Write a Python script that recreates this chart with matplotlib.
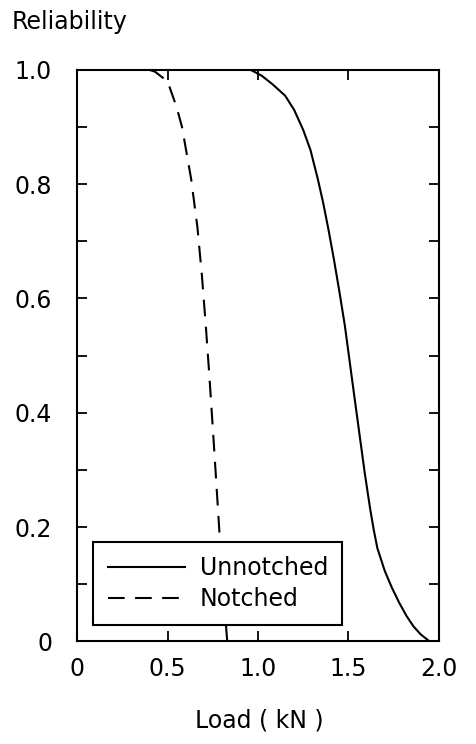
import matplotlib
matplotlib.use("Agg")
import matplotlib.pyplot as plt
from matplotlib.ticker import MultipleLocator

# Values
unnotched_load = [0.96, 1.02, 1.08, 1.15, 1.20, 1.25, 1.29, 1.33, 1.36, 1.39, 1.42, 1.45,
                  1.48, 1.50, 1.53, 1.56, 1.59, 1.62, 1.64, 1.66, 1.70, 1.74, 1.78, 1.82,
                  1.86, 1.90, 1.94]
unnotched_rel = [1.0, 0.99, 0.975, 0.955, 0.93, 0.895, 0.86, 0.81, 0.768, 0.72, 0.668, 0.612,
                 0.553, 0.506, 0.435, 0.365, 0.295, 0.232, 0.195, 0.163, 0.124, 0.094, 0.068,
                 0.045, 0.026, 0.012, 0.002]

notched_load = [0.40, 0.43, 0.50, 0.55, 0.58, 0.63, 0.665, 0.69, 0.712, 0.73, 0.755,
                0.785, 0.80, 0.83]
notched_rel = [1.0, 0.997, 0.98, 0.935, 0.90, 0.81, 0.725, 0.64, 0.55, 0.47, 0.35,
               0.20, 0.12, 0.0]

x_ticks = [0, 0.5, 1.0, 1.5, 2.0]
x_labels = ["0", "0.5", "1.0", "1.5", "2.0"]
y_ticks = [0, 0.2, 0.4, 0.6, 0.8, 1.0]
y_labels = ["0", "0.2", "0.4", "0.6", "0.8", "1.0"]

plt.rcParams['font.family'] = ['DejaVu Sans']
FS = 17

fig = plt.figure(figsize=(4.76, 7.44), dpi=100)
ax = fig.add_axes([0.162, 0.138, 0.76, 0.768])

ax.plot(unnotched_load, unnotched_rel, color='black', lw=1.5, label='Unnotched')
ax.plot(notched_load, notched_rel, color='black', lw=1.5, ls=(0, (8, 5)), label='Notched')

ax.set_xlim(0, 2.0)
ax.set_ylim(0, 1.0)
ax.set_xticks(x_ticks)
ax.set_xticklabels(x_labels)
ax.set_yticks(y_ticks)
ax.set_yticklabels(y_labels)
ax.yaxis.set_minor_locator(MultipleLocator(0.1))

for s in ax.spines.values():
    s.set_linewidth(1.5)

ax.tick_params(axis='both', which='both', direction='in', top=True, right=True,
               width=1.3, labelsize=FS)
ax.tick_params(axis='x', which='major', length=7, pad=11)
ax.tick_params(axis='y', which='major', length=7, pad=18)
ax.tick_params(axis='y', which='minor', length=7)

leg = ax.legend(loc='lower left', bbox_to_anchor=(0.045, 0.028), fontsize=FS,
                frameon=True, fancybox=False, framealpha=1, edgecolor='black',
                handlelength=3.3, borderaxespad=0, borderpad=0.6,
                labelspacing=0.3, handletextpad=0.6)
leg.get_frame().set_linewidth(1.5)
leg.set_zorder(5)

fig.text(0.025, 0.97, "Reliability", fontsize=FS, ha='left', va='center')
fig.text(0.545, 0.032, "Load ( kN )", fontsize=FS, ha='center', va='center')

fig.savefig("out.png", dpi=100)
